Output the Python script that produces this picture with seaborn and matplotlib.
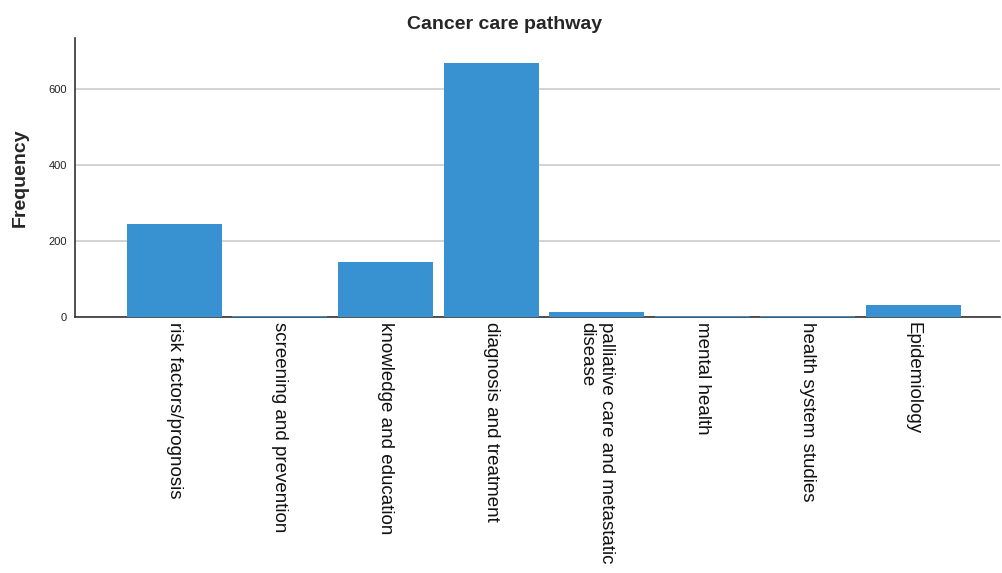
import matplotlib
matplotlib.use("Agg")
import matplotlib.pyplot as plt
import seaborn as sns
import pandas as pd

categories = [
    "risk factors/prognosis",
    "screening and prevention",
    "knowledge and education",
    "diagnosis and treatment",
    "palliative care and metastatic\ndisease",
    "mental health",
    "health system studies",
    "Epidemiology",
]
frequency = [245, 3, 145, 668, 13, 3, 3, 31]
y_ticks = [0, 200, 400, 600]

df = pd.DataFrame({"pathway": categories, "count": frequency})

sns.set_style("white")
plt.rcParams["font.family"] = ["Liberation Sans", "DejaVu Sans"]

fig = plt.figure(figsize=(10.02, 5.73), dpi=100)
ax = fig.add_axes([0.075, 0.447, 0.923, 0.487])

sns.barplot(data=df, x="pathway", y="count", color="#3891d1", width=0.9,
            saturation=1, linewidth=0, ax=ax, zorder=3)

ax.set_xlim(-0.94, 7.82)
ax.set_ylim(0, 735)
ax.set_yticks(y_ticks)
ax.yaxis.grid(True, color="#d0d0d0", linewidth=1.3, zorder=0)
ax.set_axisbelow(True)

for s in ["top", "right"]:
    ax.spines[s].set_visible(False)
for s in ["left", "bottom"]:
    ax.spines[s].set_color("#333333")
    ax.spines[s].set_linewidth(1.2)

ax.tick_params(axis="y", labelsize=8, length=0, pad=6, labelcolor="#222222")
ax.tick_params(axis="x", labelsize=13.5, length=0, pad=4, labelcolor="#111111")
plt.setp(ax.get_xticklabels(), rotation=270, va="top", ha="center",
         multialignment="left", rotation_mode="default")

ax.set_xlabel("")
ax.set_ylabel("Frequency", fontsize=14, fontweight="bold", labelpad=14)
fig.suptitle("Cancer care pathway", fontsize=14, fontweight="bold",
             x=0.504, y=0.972)

fig.savefig("out.png", dpi=100)
plt.close(fig)
